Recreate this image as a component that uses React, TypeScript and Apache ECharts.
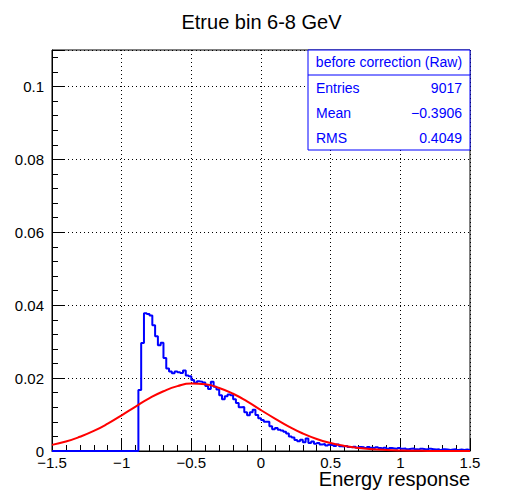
import { useEffect, useRef } from "react";
import * as echarts from "echarts";

// histogram: 150 bins of width 0.02 from -1.5 to 1.5
const binStart = -1.5;
const binWidth = 0.02;
const lowZeros = [
  0, 0, 0, 0, 0, 0, 0, 0, 0, 0, 0, 0, 0, 0, 0, 0, 0, 0, 0, 0, 0, 0, 0, 0, 0, 0, 0, 0, 0, 0, 0,
];
const peakBins = [
  0.0167, 0.0296, 0.0378, 0.0376, 0.0372, 0.0345, 0.0315, 0.029, 0.0297, 0.0255,
  0.0226, 0.0218, 0.0213, 0.0218, 0.0216, 0.0214, 0.0221, 0.0207, 0.0205, 0.0195,
  0.0187, 0.0191, 0.019, 0.0188, 0.0178, 0.017, 0.019, 0.0176, 0.0169, 0.0153,
  0.0142, 0.015, 0.0155, 0.0153, 0.0142, 0.0132, 0.012, 0.0121, 0.0106, 0.0098,
  0.0106, 0.0113, 0.0099, 0.009, 0.0085, 0.008, 0.008, 0.0068, 0.006, 0.0063,
  0.0058, 0.0056, 0.0053, 0.0048, 0.004, 0.0037, 0.003,
];
const tailBins = [
  0.0027, 0.0031, 0.0024, 0.0034, 0.0022, 0.0026, 0.002, 0.0022, 0.0018, 0.0019,
  0.0015, 0.0017, 0.0016, 0.0014, 0.0018, 0.0013, 0.0012, 0.0014, 0.0011, 0.001,
  0.0012, 0.0009, 0.0011, 0.001, 0.0008, 0.0011, 0.0009, 0.0008, 0.001, 0.0008,
  0.0007, 0.0009, 0.0006, 0.0008, 0.0007, 0.0006, 0.0008, 0.0006, 0.0007, 0.0005,
  0.0006, 0.0007, 0.0005, 0.0004, 0.0006, 0.0005, 0.0004, 0.0006, 0.0005, 0.0004,
  0.0005, 0.0003, 0.0005, 0.0004, 0.0003, 0.0004, 0.0005, 0.0003, 0.0004, 0.0003,
  0.0004, 0.0003,
];

// gaussian fit, sampled every 0.1
const fitX = [
  -1.5, -1.4, -1.3, -1.2, -1.1, -1.0, -0.9, -0.8, -0.7, -0.6, -0.5, -0.4, -0.3, -0.2, -0.1,
  0, 0.1, 0.2, 0.3, 0.4, 0.5, 0.6, 0.7, 0.8, 0.9, 1.0, 1.1, 1.2, 1.3, 1.4, 1.5,
];
const fitY = [
  0.00168, 0.0026, 0.0039, 0.0055, 0.0075, 0.0098, 0.0122, 0.0145, 0.0164, 0.0178, 0.0185,
  0.0183, 0.0173, 0.0157, 0.0136, 0.0112, 0.0089, 0.0067, 0.0048, 0.0033, 0.0022, 0.0014,
  0.00083, 0.00048, 0.00027, 0.00014, 0.00007, 0.00003, 0.00001, 0, 0,
];

const statsTitle = "before correction (Raw)";
const statsRows = [
  ["Entries", "9017"],
  ["Mean", "\u22120.3906"],
  ["RMS", "0.4049"],
];

const fmt = (v: number) => String(Math.round(v * 1000) / 1000).replace("-", "\u2212");

export default function App() {
  const ref = useRef<HTMLDivElement | null>(null);

  useEffect(() => {
    if (!ref.current) return;
    const chart = echarts.init(ref.current, null, { renderer: "svg" });

    const bins = [...lowZeros, ...peakBins, ...tailBins];
    const hist = bins.map((v, i) => [binStart + i * binWidth, v]);
    hist.push([1.5, bins[bins.length - 1]]);
    const fit = fitX.map((x, i) => [x, fitY[i]]);

    const font = "Liberation Sans, Arial, sans-serif";
    const blue = "#0000ff";
    const boxL = 308, boxT = 50, boxW = 162, boxH = 100;

    const axisCommon = {
      axisLine: { onZero: false, lineStyle: { color: "#000", width: 1 } },
      axisTick: { inside: true, length: 12, lineStyle: { color: "#000" } },
      minorTick: { show: true, splitNumber: 5, length: 6, lineStyle: { color: "#000" } },
      splitLine: { show: true, lineStyle: { color: "#000", type: [1, 3] as any, width: 1 } },
      axisLabel: { color: "#000", fontFamily: font, fontSize: 15, formatter: fmt, showMaxLabel: false },
    };

    chart.setOption({
      animation: false,
      backgroundColor: "#fff",
      grid: { left: 52, right: 53, top: 50, bottom: 49, show: true, borderColor: "#000", borderWidth: 1 },
      title: {
        text: "Etrue bin 6-8 GeV",
        left: "center",
        top: 7,
        textStyle: { fontFamily: font, fontSize: 20, fontWeight: "normal", color: "#000" },
      },
      xAxis: {
        type: "value",
        min: -1.5,
        max: 1.5,
        interval: 0.5,
        ...axisCommon,
        axisLabel: { ...axisCommon.axisLabel, showMaxLabel: true, margin: 4 },
      },
      yAxis: {
        type: "value",
        min: 0,
        max: 0.11,
        interval: 0.02,
        ...axisCommon,
        axisLabel: { ...axisCommon.axisLabel, margin: 8 },
      },
      graphic: [
        {
          type: "text",
          right: 53,
          top: 469,
          style: { text: "Energy response", font: `20px ${font}`, fill: "#000" },
        },
        {
          type: "rect",
          shape: { x: boxL, y: boxT, width: boxW, height: boxH },
          style: { fill: "#fff", stroke: blue, lineWidth: 1 },
          z: 10,
        },
        {
          type: "line",
          shape: { x1: boxL, y1: boxT + 25, x2: boxL + boxW, y2: boxT + 25 },
          style: { stroke: blue, lineWidth: 1 },
          z: 10,
        },
        {
          type: "text",
          x: boxL + boxW / 2,
          y: boxT + 12,
          style: { text: statsTitle, font: `14px ${font}`, fill: blue, align: "center", verticalAlign: "middle" },
          z: 11,
        },
        ...statsRows.flatMap((r, i) => [
          {
            type: "text",
            x: boxL + 8,
            y: boxT + 38 + i * 25,
            style: { text: r[0], font: `14px ${font}`, fill: blue, verticalAlign: "middle" },
            z: 11,
          },
          {
            type: "text",
            x: boxL + boxW - 8,
            y: boxT + 38 + i * 25,
            style: { text: r[1], font: `14px ${font}`, fill: blue, align: "right", verticalAlign: "middle" },
            z: 11,
          },
        ]),
      ],
      series: [
        {
          type: "line",
          name: "hist",
          step: "end",
          data: hist,
          showSymbol: false,
          lineStyle: { color: blue, width: 2 },
          z: 3,
        },
        {
          type: "line",
          name: "fit",
          smooth: true,
          data: fit,
          showSymbol: false,
          lineStyle: { color: "#ff0000", width: 2 },
          z: 4,
        },
      ],
    });

    return () => chart.dispose();
  }, []);

  return <div ref={ref} style={{ width: 523, height: 500, margin: -8 }} />;
}
